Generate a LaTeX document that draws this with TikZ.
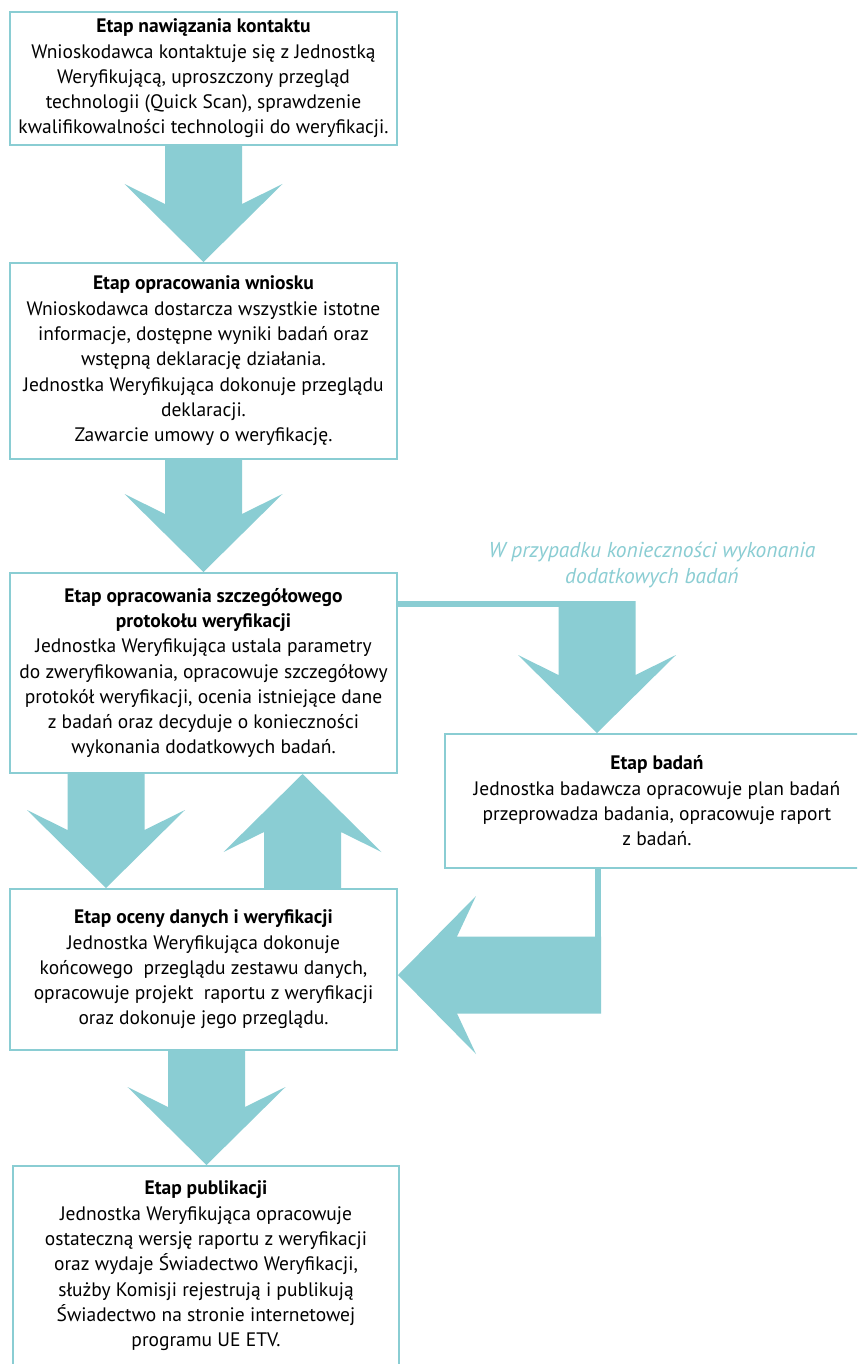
\documentclass[tikz,border=0pt]{standalone}
\usepackage{fontspec}
\setmainfont{PT Sans}
\usetikzlibrary{calc}
\definecolor{teal1}{HTML}{8ACDD3}
\newcommand\fatdown[2]{\fill[fat] let \p1=(#1), \p2=(#2) in
  (\x2-38.5pt,\y1) -- (\x2-38.5pt,\y2+58pt) -- (\x2-79pt,\y2+78pt) -- (\x2,\y2)
  -- (\x2+79pt,\y2+78pt) -- (\x2+38.5pt,\y2+58pt) -- (\x2+38.5pt,\y1) -- cycle;}
\newcommand\fatup[2]{\fill[fat] let \p1=(#1), \p2=(#2) in
  (\x2-38.5pt,\y1) -- (\x2-38.5pt,\y2-58pt) -- (\x2-79pt,\y2-78pt) -- (\x2,\y2)
  -- (\x2+79pt,\y2-78pt) -- (\x2+38.5pt,\y2-58pt) -- (\x2+38.5pt,\y1) -- cycle;}
\newcommand\fatleft[2]{\fill[fat] let \p1=(#1), \p2=(#2) in
  (\x1,\y2+38.5pt) -- (\x2+59pt,\y2+38.5pt) -- (\x2+78pt,\y2+79pt) -- (\x2,\y2)
  -- (\x2+78pt,\y2-79pt) -- (\x2+59pt,\y2-38.5pt) -- (\x1,\y2-38.5pt) -- cycle;}
\begin{document}
\begin{tikzpicture}[x=1pt,y=-1pt,
  box/.style={draw=teal1, line width=2pt, fill=white, align=center, inner sep=0pt,
    font=\fontsize{19.5}{25.3}\selectfont, text=black},
  fat/.style={fill=teal1},
  link/.style={draw=teal1, line width=6pt},
  note/.style={text=teal1, font=\fontsize{21.5}{26}\selectfont\itshape, align=center}]
\useasboundingbox (0,0) rectangle (857,1364);
\fill[white] (0,0) rectangle (857,1364);
\clip (0,0) rectangle (857,1364);

\node[box, minimum width=387pt, minimum height=133pt] (b1) at (203.5,78.5)
{\textbf{Etap nawiązania kontaktu}\\
Wnioskodawca kontaktuje się z Jednostką\\
Weryfikującą, uproszczony przegląd\\
technologii (Quick Scan), sprawdzenie\\
kwalifikowalności technologii do weryfikacji.};

\node[box, minimum width=387pt, minimum height=196pt] (b2) at (203.5,361)
{\textbf{Etap opracowania wniosku}\\
Wnioskodawca dostarcza wszystkie istotne\\
informacje, dostępne wyniki badań oraz\\
wstępną deklarację działania.\\
Jednostka Weryfikująca dokonuje przeglądu\\
deklaracji.\\
Zawarcie umowy o weryfikację.};

\node[box, minimum width=387pt, minimum height=200pt] (b3) at (203.5,673)
{\textbf{Etap opracowania szczegółowego}\\
\textbf{protokołu weryfikacji}\\
Jednostka Weryfikująca ustala parametry\\
do zweryfikowania, opracowuje szczegółowy\\
protokół weryfikacji, ocenia istniejące dane\\
z badań oraz decyduje o konieczności\\
wykonania dodatkowych badań.};

\node[box, minimum width=424pt, minimum height=134pt] (b4) at (657,801)
{\textbf{Etap badań}\\
Jednostka badawcza opracowuje plan badań\\
przeprowadza badania, opracowuje raport\\
z badań.};

\node[box, minimum width=387pt, minimum height=161pt] (b5) at (203.5,969.5)
{\textbf{Etap oceny danych i weryfikacji}\\
Jednostka Weryfikująca dokonuje\\
końcowego \ przeglądu zestawu danych,\\
opracowuje projekt \ raportu z weryfikacji\\
oraz dokonuje jego przeglądu.};

\node[box, minimum width=386pt, minimum height=200pt] (b6) at (206,1266)
{\textbf{Etap publikacji}\\
Jednostka Weryfikująca opracowuje\\
ostateczną wersję raportu z weryfikacji\\
oraz wydaje Świadectwo Weryfikacji,\\
służby Komisji rejestrują i publikują\\
Świadectwo na stronie internetowej\\
programu UE ETV.};

\node[note] (lbl) at (652,565) {W przypadku konieczności wykonania\\dodatkowych badań};

\coordinate (cL) at (106,0);
\coordinate (cU) at (302.5,0);
\coordinate (cD) at (206.5,0);
\coordinate (yS) at (0,604);
\coordinate (j1) at (597,601);
\coordinate (j2) at (598,0);
\coordinate (j3) at (601,975);

\fatdown{b1.south}{b2.north}
\fatdown{b2.south}{b3.north}
\fatdown{b3.south -| cL}{b5.north -| cL}
\fatup{b5.north -| cU}{b3.south -| cU}
\fatdown{b5.south -| cD}{b6.north -| cD}

\draw[link] (b3.east |- yS) -- (j1 |- yS);
\fatdown{j1}{b4.north -| j1}
\draw[link] (b4.south -| j2) -- (j2 |- 0,945);
\fatleft{j3}{b5.east |- j3}
\end{tikzpicture}
\end{document}
